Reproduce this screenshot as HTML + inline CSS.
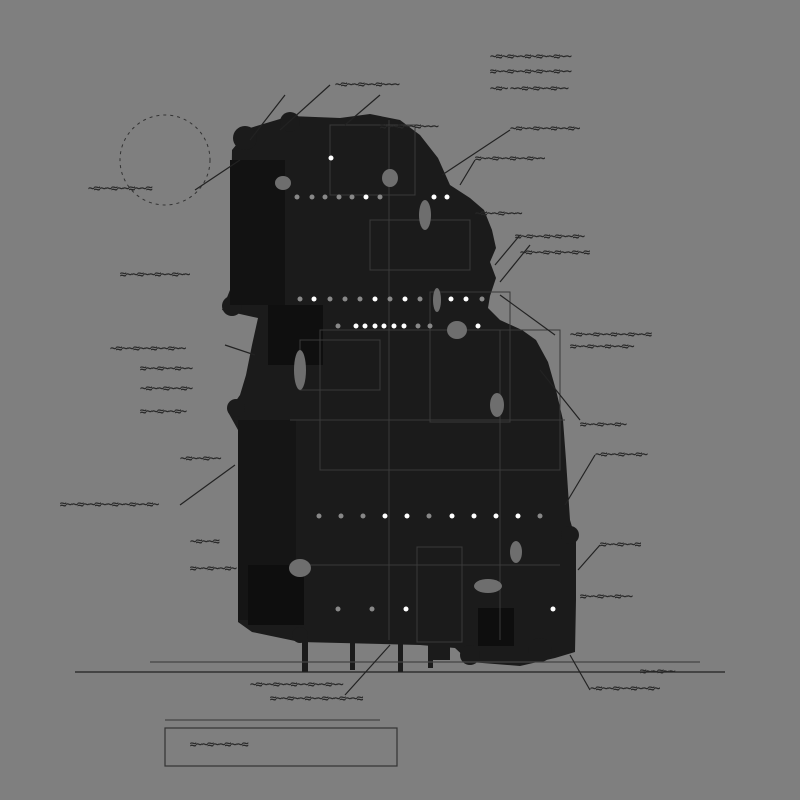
<!DOCTYPE html>
<html><head><meta charset="utf-8"><style>
html,body{margin:0;padding:0;background:#7f7f7f;width:800px;height:800px;overflow:hidden}
svg{display:block}
text{font-family:"Liberation Sans",sans-serif;fill:#222;stroke:#2a2a2a;stroke-width:0.5;font-size:11px;font-style:italic;letter-spacing:-0.5px}
</style></head><body>
<svg width="800" height="800" viewBox="0 0 800 800">
<rect width="800" height="800" fill="#7f7f7f"/>
<path fill="#1b1b1b" d="M232,150 L250,128 L290,116 L340,118 L370,114 L400,120 L420,135 L438,158 L450,185 L470,198 L484,210 L492,230 L496,248 L490,262 L496,278 L490,296 L488,308 L500,320 L522,330 L536,340 L548,362 L556,390 L563,420 L566,460 L570,520 L576,540 L576,600 L575,652 L555,658 L520,666 L470,662 L455,648 L420,645 L300,642 L252,632 L238,622 L238,430 L228,412 L240,395 L246,375 L252,345 L258,318 L222,310 L226,300 L230,290 Z"/>
<g fill="#1b1b1b"><circle cx="245" cy="138" r="12"/><circle cx="290" cy="122" r="10"/><circle cx="232" cy="306" r="10"/><circle cx="236" cy="408" r="9"/><circle cx="570" cy="535" r="9"/><circle cx="470" cy="655" r="10"/><circle cx="540" cy="650" r="12"/><circle cx="300" cy="635" r="8"/></g>
<rect x="230" y="160" width="55" height="145" fill="#121212"/>
<rect x="238" y="420" width="58" height="200" fill="#151515"/>
<rect x="248" y="565" width="56" height="60" fill="#0e0e0e"/>
<rect x="478" y="608" width="36" height="38" fill="#0e0e0e"/>
<rect x="268" y="305" width="55" height="60" fill="#0f0f0f"/>
<g fill="#1b1b1b"><rect x="302" y="640" width="6" height="32"/><rect x="350" y="640" width="5" height="30"/><rect x="398" y="640" width="5" height="32"/><rect x="428" y="640" width="5" height="28"/><rect x="430" y="640" width="20" height="20"/></g>
<g stroke="#3a3a3a" stroke-width="1" fill="none">
<rect x="320" y="330" width="240" height="140"/><rect x="370" y="220" width="100" height="50"/><rect x="430" y="292" width="80" height="130"/><rect x="417" y="547" width="45" height="95"/>
<rect x="330" y="125" width="85" height="70"/><rect x="300" y="340" width="80" height="50"/>
<line x1="389" y1="120" x2="389" y2="640"/><line x1="500" y1="330" x2="500" y2="640"/><line x1="290" y1="420" x2="565" y2="420"/><line x1="300" y1="565" x2="560" y2="565"/>
</g>
<g fill="#6e6e6e"><ellipse cx="300" cy="568" rx="11" ry="9"/><ellipse cx="488" cy="586" rx="14" ry="7"/><ellipse cx="516" cy="552" rx="6" ry="11"/><ellipse cx="497" cy="405" rx="7" ry="12"/><ellipse cx="457" cy="330" rx="10" ry="9"/><ellipse cx="390" cy="178" rx="8" ry="9"/><ellipse cx="425" cy="215" rx="6" ry="15"/><ellipse cx="437" cy="300" rx="4" ry="12"/><ellipse cx="283" cy="183" rx="8" ry="7"/><ellipse cx="300" cy="370" rx="6" ry="20"/></g>
<g fill="#888"><circle cx="297" cy="197" r="2.5"/><circle cx="312" cy="197" r="2.5"/><circle cx="325" cy="197" r="2.5"/><circle cx="339" cy="197" r="2.5"/><circle cx="352" cy="197" r="2.5"/><circle cx="380" cy="197" r="2.5"/>
<circle cx="300" cy="299" r="2.5"/><circle cx="330" cy="299" r="2.5"/><circle cx="345" cy="299" r="2.5"/><circle cx="360" cy="299" r="2.5"/><circle cx="390" cy="299" r="2.5"/><circle cx="420" cy="299" r="2.5"/><circle cx="482" cy="299" r="2.5"/>
<circle cx="338" cy="326" r="2.5"/><circle cx="418" cy="326" r="2.5"/><circle cx="430" cy="326" r="2.5"/>
<circle cx="319" cy="516" r="2.5"/><circle cx="341" cy="516" r="2.5"/><circle cx="363" cy="516" r="2.5"/><circle cx="429" cy="516" r="2.5"/><circle cx="540" cy="516" r="2.5"/>
<circle cx="338" cy="609" r="2.5"/><circle cx="372" cy="609" r="2.5"/></g>
<g fill="#fff"><circle cx="366" cy="197" r="2.5"/><circle cx="434" cy="197" r="2.5"/><circle cx="447" cy="197" r="2.5"/><circle cx="331" cy="158" r="2.5"/>
<circle cx="314" cy="299" r="2.5"/><circle cx="375" cy="299" r="2.5"/><circle cx="405" cy="299" r="2.5"/><circle cx="451" cy="299" r="2.5"/><circle cx="466" cy="299" r="2.5"/>
<circle cx="356" cy="326" r="2.5"/><circle cx="365" cy="326" r="2.5"/><circle cx="375" cy="326" r="2.5"/><circle cx="384" cy="326" r="2.5"/><circle cx="394" cy="326" r="2.5"/><circle cx="404" cy="326" r="2.5"/><circle cx="478" cy="326" r="2.5"/>
<circle cx="385" cy="516" r="2.5"/><circle cx="407" cy="516" r="2.5"/><circle cx="452" cy="516" r="2.5"/><circle cx="474" cy="516" r="2.5"/><circle cx="496" cy="516" r="2.5"/><circle cx="518" cy="516" r="2.5"/>
<circle cx="406" cy="609" r="2.5"/><circle cx="553" cy="609" r="2.5"/></g>
<g stroke="#222" stroke-width="1.2" fill="none">
<line x1="75" y1="672" x2="725" y2="672"/><line x1="150" y1="662" x2="700" y2="662" stroke="#444"/>
<line x1="510" y1="130" x2="442" y2="175"/><line x1="475" y1="160" x2="460" y2="185"/>
<line x1="520" y1="235" x2="495" y2="265"/><line x1="530" y1="245" x2="500" y2="282"/>
<line x1="555" y1="335" x2="500" y2="295"/><line x1="580" y1="420" x2="540" y2="370"/>
<line x1="595" y1="455" x2="565" y2="505"/><line x1="600" y1="545" x2="578" y2="570"/>
<line x1="590" y1="690" x2="570" y2="655"/><line x1="390" y1="645" x2="345" y2="695"/>
<line x1="195" y1="190" x2="240" y2="160"/><line x1="250" y1="140" x2="285" y2="95"/><line x1="330" y1="85" x2="280" y2="130"/><line x1="380" y1="95" x2="345" y2="125"/>
<line x1="225" y1="345" x2="255" y2="355"/><line x1="180" y1="505" x2="235" y2="465"/>
<rect x="165" y="728" width="232" height="38" stroke="#333"/><line x1="165" y1="720" x2="380" y2="720" stroke="#444"/>
</g>
<ellipse cx="165" cy="160" rx="45" ry="45" fill="none" stroke="#333" stroke-dasharray="3,4"/>
<text x="490" y="60" font-size="12">~≈~≈~~≈~≈~~≈~~</text>
<text x="490" y="75" font-size="12">≈~~≈~~≈~≈~~≈~~</text>
<text x="490" y="92" font-size="12">~≈~ ~~≈~≈~~≈~~</text>
<text x="335" y="88">~≈~~≈~~≈~~~</text>
<text x="380" y="130">≈~~≈~~≈~~~</text>
<text x="510" y="132">~≈~~≈~~≈~~≈~</text>
<text x="475" y="162">≈~~≈~~≈~~≈~~</text>
<text x="475" y="217">~≈~~≈~~~</text>
<text x="515" y="240" font-size="13">≈~≈~~≈~≈~~≈~</text>
<text x="520" y="256" font-size="13">~≈~~≈~≈~~≈~≈</text>
<text x="570" y="338">~≈~~≈~~≈~~≈~~≈</text>
<text x="570" y="350">≈~~≈~~≈~~≈~</text>
<text x="580" y="428" font-size="13">≈~~≈~~≈~</text>
<text x="595" y="458">~≈~~≈~~≈~</text>
<text x="600" y="548">≈~~≈~~≈</text>
<text x="580" y="600" font-size="13">≈~~≈~~≈~~</text>
<text x="590" y="692" font-size="13">~≈~~≈~~≈~~≈~</text>
<text x="640" y="675">≈~~≈~~</text>
<text x="250" y="688" font-size="13">~≈~~≈~~≈~~≈~~≈~~</text>
<text x="270" y="702">≈~~≈~~≈~~≈~~≈~~≈</text>
<text x="88" y="192" font-size="12">~≈~~≈~~≈~~≈</text>
<text x="120" y="278">≈~~≈~~≈~~≈~~</text>
<text x="110" y="352">~≈~~≈~~≈~~≈~~</text>
<text x="140" y="372">≈~~≈~~≈~~</text>
<text x="140" y="392">~≈~~≈~~≈~</text>
<text x="140" y="415">≈~~≈~~≈~</text>
<text x="180" y="462">~≈~~≈~~</text>
<text x="60" y="508" font-size="12">≈~~≈~~≈~~≈~~≈~~≈~</text>
<text x="190" y="545">~≈~~≈</text>
<text x="190" y="572">≈~~≈~~≈~</text>
<text x="190" y="748" font-size="13">≈~~≈~~≈~~≈</text>
</svg>
</body></html>
